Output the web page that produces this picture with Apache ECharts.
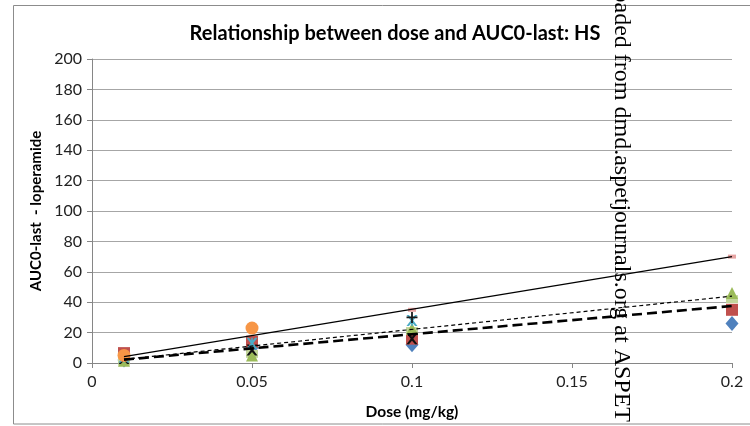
<!DOCTYPE html>
<html>
<head>
<meta charset="utf-8">
<script src="https://cdn.jsdelivr.net/npm/echarts@6/dist/echarts.min.js"></script>
<style>
  html, body { margin: 0; padding: 0; background: #fff; }
  #chart { width: 750px; height: 426px; }
</style>
</head>
<body>
<div id="chart"></div>
<script>
// Dose levels (mg/kg)
const doses = [0.01, 0.05, 0.1, 0.2];

// AUC0-last per animal marker series (null = no point at that dose)
const diamondVals  = [2, 10, 12, 26];
const squareVals   = [6.5, 14, 16, 35];
const paleVals     = [1, 6, 21, 42];
const triangleVals = [1.5, 5, 22.5, 46];
const crossVals    = [3, 8.5, 16, null];
const starVals     = [4, 13, 28, null];
const circleVals   = [5, 23, null, null];
const plusVals     = [null, null, 30, null];
const dashVals     = [null, null, 35, 70];

// Linear trend lines, evaluated at the ends of the dose range
const trendDoses = [0.01, 0.2];
const trendSolid = [4.2, 70];
const trendShort = [2.4, 44];
const trendLong  = [2.2, 37.5];

// Axis ticks
const xTicks = [0, 0.05, 0.1, 0.15, 0.2];
const yTicks = [0, 20, 40, 60, 80, 100, 120, 140, 160, 180, 200];

const FONT = 'Lato, "Open Sans", sans-serif';

const pts = vals => doses.map((d, i) => vals[i] == null ? null : [d, vals[i]]).filter(p => p);
const line = vals => trendDoses.map((d, i) => [d, vals[i]]);

const X_PATH = 'path://M0,0 L2.2,0 L5,3.2 L7.8,0 L10,0 L6.2,5 L10,10 L7.8,10 L5,6.8 L2.2,10 L0,10 L3.8,5 Z';
const STAR_PATH = 'path://M0,0 L2.2,0 L5,3.2 L7.8,0 L10,0 L6.2,5 L10,10 L7.8,10 L5,6.8 L2.2,10 L0,10 L3.8,5 Z M4.3,0 L5.7,0 L5.7,10 L4.3,10 Z';
const PLUS_PATH = 'path://M4.2,0 L5.8,0 L5.8,4.2 L10,4.2 L10,5.8 L5.8,5.8 L5.8,10 L4.2,10 L4.2,5.8 L0,5.8 L0,4.2 L4.2,4.2 Z';
const DASH_PATH = 'path://M0,0 L10,0 L10,4 L0,4 Z';

function markers(name, vals, symbol, size, color, z) {
  return {
    name, type: 'scatter', data: pts(vals), symbol, symbolSize: size,
    itemStyle: { color, opacity: 1 }, z, silent: true
  };
}

function trend(name, vals, type, width) {
  return {
    name, type: 'line', data: line(vals), symbol: 'none', z: 20, silent: true,
    lineStyle: { color: '#000', width, type }
  };
}

const chart = echarts.init(document.getElementById('chart'), null, { renderer: 'canvas' });

chart.setOption({
  animation: false,
  backgroundColor: '#fff',
  title: {
    text: 'Relationship between dose and AUC0-last: HS',
    left: 390, top: 19, textAlign: 'center',
    textStyle: { fontFamily: FONT, fontSize: 20, fontWeight: 'bold', color: '#000' }
  },
  grid: { left: 92, right: 18, top: 59, bottom: 63 },
  xAxis: {
    type: 'value', min: 0, max: 0.2, interval: 0.05,
    name: 'Dose (mg/kg)', nameLocation: 'middle', nameGap: 41,
    nameTextStyle: { fontFamily: FONT, fontSize: 15.5, fontWeight: 'bold', color: '#000' },
    axisLine: { show: true, lineStyle: { color: '#868686', width: 1 } },
    axisTick: { show: true, length: 5, lineStyle: { color: '#868686' } },
    splitLine: { show: false },
    axisLabel: {
      margin: 11, fontFamily: FONT, fontSize: 16, color: '#222',
      formatter: v => {
        const t = xTicks.find(k => Math.abs(k - v) < 1e-9);
        return String(t != null ? t : +v.toFixed(2));
      }
    }
  },
  yAxis: {
    type: 'value', min: 0, max: 200, interval: 20,
    name: 'AUC0-last  - loperamide', nameLocation: 'middle', nameGap: 47,
    nameTextStyle: { fontFamily: FONT, fontSize: 15, fontWeight: 'bold', color: '#000' },
    axisLine: { show: true, lineStyle: { color: '#868686', width: 1 } },
    axisTick: { show: true, length: 5, lineStyle: { color: '#868686' } },
    splitLine: { show: true, lineStyle: { color: '#a6a6a6', width: 1 } },
    axisLabel: {
      margin: 10, fontFamily: FONT, fontSize: 16, color: '#222',
      formatter: v => String(yTicks.find(k => k === v) ?? v)
    }
  },
  series: [
    markers('diamond', diamondVals, 'diamond', [13, 15], '#4f81bd', 2),
    markers('square', squareVals, 'rect', [12, 12], '#c0504d', 3),
    markers('pale', paleVals, 'rect', [12, 8], '#c3d69b', 4),
    markers('triangle', triangleVals, 'triangle', [12, 12], '#9bbb59', 5),
    markers('cross', crossVals, X_PATH, [11, 11], '#111', 6),
    markers('star', starVals, STAR_PATH, [11, 11], '#4bacc6', 7),
    markers('circle', circleVals, 'circle', 13, '#f79646', 8),
    markers('plus', plusVals, PLUS_PATH, [11, 11], '#1a1a1a', 9),
    markers('dash', dashVals, DASH_PATH, [8, 4], '#e6a3a2', 10),
    trend('trend solid', trendSolid, 'solid', 1.2),
    trend('trend short', trendShort, [4, 3], 1.2),
    trend('trend long', trendLong, [10, 5], 2.6)
  ],
  graphic: [
    {
      type: 'rect', silent: true, z: -1,
      shape: { x: 13.5, y: 5.5, width: 800, height: 418.5 },
      style: { fill: 'none', stroke: '#8c8c8c', lineWidth: 1 }
    },
    {
      type: 'text', silent: true, z: 100,
      x: 621, y: 422, rotation: -Math.PI / 2,
      style: {
        text: 'Downloaded from dmd.aspetjournals.org at ASPET',
        fontFamily: '"Liberation Serif", "DejaVu Serif", serif',
        fontSize: 24, fill: '#000',
        textAlign: 'right', textVerticalAlign: 'middle'
      }
    }
  ]
});
</script>
</body>
</html>
